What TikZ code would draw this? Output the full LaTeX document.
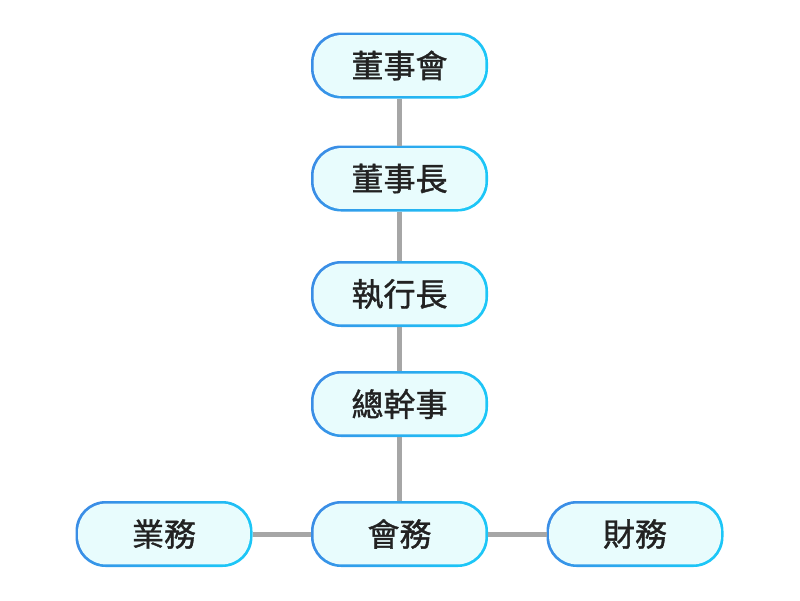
\documentclass[tikz,border=0pt]{standalone}
\usepackage{fontspec}
\newfontfamily\cjk[FakeBold=1.2]{Noto Sans CJK TC}
\usepackage{xcolor}
\definecolor{boxblue}{HTML}{3A8EE6}
\definecolor{boxcyan}{HTML}{1CC6F7}
\definecolor{boxfill}{HTML}{E8FCFD}
\definecolor{linkgray}{HTML}{A6A6A6}
\definecolor{textdark}{HTML}{222222}
\usetikzlibrary{positioning}
\begin{document}
\begin{tikzpicture}[x=1pt, y=1pt,
	box/.style={minimum width=177pt, minimum height=66pt, outer sep=0pt, inner sep=0pt,
		text=textdark, font=\cjk\fontsize{32}{32}\selectfont,
		path picture={
			\shade[left color=boxblue, right color=boxcyan, shading angle=65]
				(path picture bounding box.south west) rectangle (path picture bounding box.north east);
			\fill[boxfill, rounded corners=28pt]
				([shift={(2.6pt,2.6pt)}]path picture bounding box.south west) rectangle
				([shift={(-2.6pt,-2.6pt)}]path picture bounding box.north east);
		},
		rounded corners=30pt},
	link/.style={draw=linkgray, line width=5pt}]
			\useasboundingbox (0,0) rectangle (800,-600);
			% boxes
			\node[box] (dongshihui) at (399.5,-65.5) {董事會};
			\node[box] (dongshizhang) at (399.5,-178.5) {董事長};
			\node[box] (ceo) at (399.5,-294) {執行長};
			\node[box] (zongganshi) at (399.5,-404) {總幹事};
			\node[box] (kuaiwu) at (399.5,-534) {會務};
			\node[box] (yewu) at (164,-534) {業務};
			\node[box] (caiwu) at (635,-534) {財務};
			% links
			\draw[link] (dongshihui.south) -- (dongshizhang.north);
			\draw[link] (dongshizhang.south) -- (ceo.north);
			\draw[link] (ceo.south) -- (zongganshi.north);
			\draw[link] (zongganshi.south) -- (kuaiwu.north);
			\draw[link] (yewu.east) -- (kuaiwu.west);
			\draw[link] (kuaiwu.east) -- (caiwu.west);
		\end{tikzpicture}
\end{document}
